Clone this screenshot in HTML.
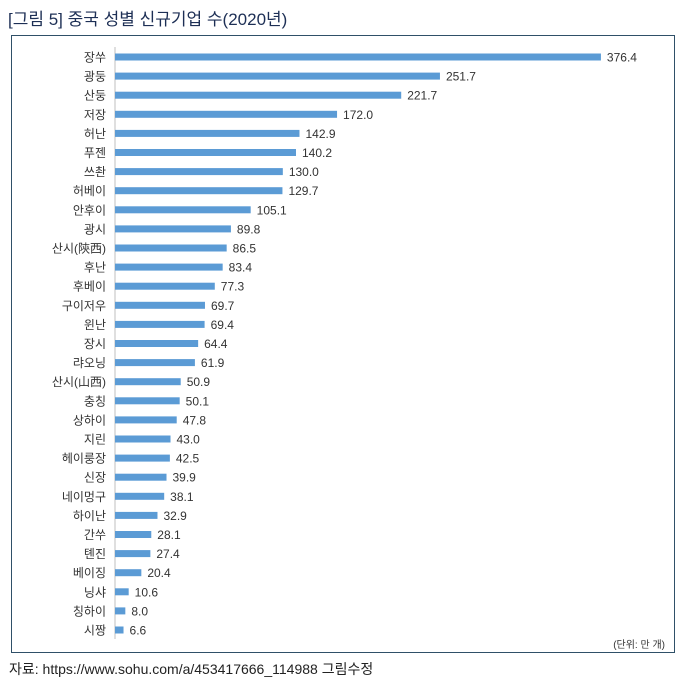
<!DOCTYPE html>
<html><head><meta charset="utf-8"><style>
body{margin:0;background:#fff;width:685px;height:690px;overflow:hidden;font-family:"Liberation Sans","Noto Sans CJK KR",sans-serif;}
.title{position:absolute;left:8px;top:5px;font-size:17px;color:#1d2f55;}
.box{position:absolute;left:11px;top:35px;width:664px;height:618px;border:1px solid #2f5068;box-sizing:border-box;}
.src{position:absolute;left:9px;top:659px;font-size:14px;color:#222;}
svg{position:absolute;left:0;top:0;}
</style></head><body>
<div class="title">[그림 5] 중국 성별 신규기업 수(2020년)</div>
<div class="box"></div>
<svg width="685" height="690" id="chart"></svg>
<div class="src">자료: https://www.sohu.com/a/453417666_114988 그림수정</div>
<script>
const categories=["장쑤","광둥","산둥","저장","허난","푸젠","쓰촨","허베이","안후이","광시","산시(陝西)","후난","후베이","구이저우","윈난","장시","랴오닝","산시(山西)","충칭","상하이","지린","헤이룽장","신장","네이멍구","하이난","간쑤","톈진","베이징","닝샤","칭하이","시짱"];
const values=[376.4,251.7,221.7,172.0,142.9,140.2,130.0,129.7,105.1,89.8,86.5,83.4,77.3,69.7,69.4,64.4,61.9,50.9,50.1,47.8,43.0,42.5,39.9,38.1,32.9,28.1,27.4,20.4,10.6,8.0,6.6];
const NS="http://www.w3.org/2000/svg";
const svg=document.getElementById('chart');
const x0=115, xs=v=>x0+v*1.291;
const y=i=>57+i*19.1;
function mk(t,a){const e=document.createElementNS(NS,t);for(const k in a)e.setAttribute(k,a[k]);svg.appendChild(e);return e;}
const ax=mk('line',{x1:x0,y1:47,x2:x0,y2:639,stroke:'#bfbfbf','stroke-width':1});


categories.forEach((c,i)=>{
  const yy=y(i);
  const b=mk('rect',{x:x0,y:yy-3.5,width:xs(values[i])-x0,height:7,fill:'#5b9bd5'});
  
  
  const l=mk('text',{x:106,y:yy+4.5,'text-anchor':'end','font-size':12,fill:'#333'});
  l.textContent=c;
  
  
  const v=mk('text',{x:xs(values[i])+6,y:yy+4.5,'font-size':12,fill:'#333'});
  v.textContent=values[i].toFixed(1);
  
  
});
const u=mk('text',{x:665,y:648,'text-anchor':'end','font-size':10,fill:'#333'});
u.textContent='(단위: 만 개)';


</script>
</body></html>
